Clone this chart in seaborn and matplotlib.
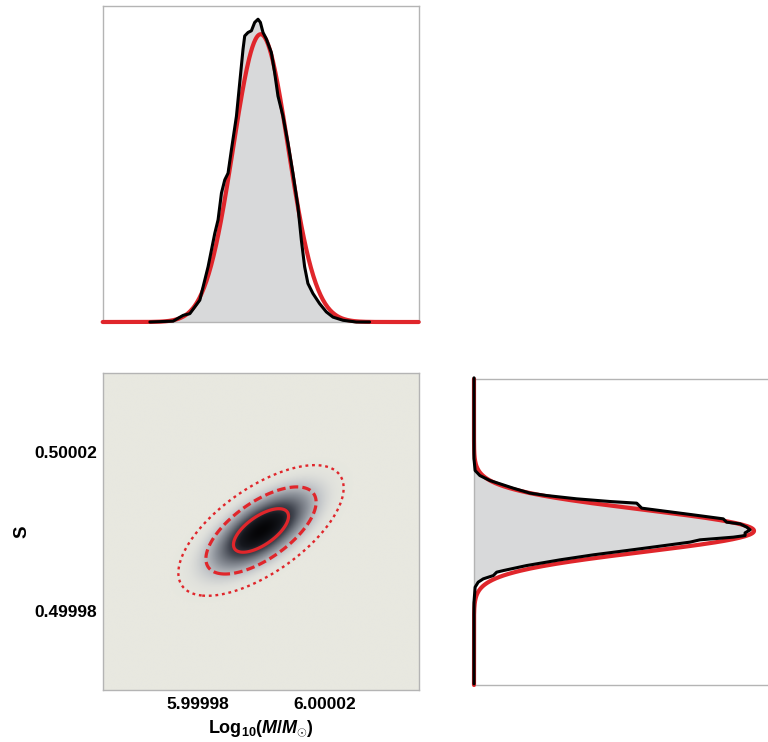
import numpy as np
import pandas as pd
import matplotlib
matplotlib.use("Agg")
import matplotlib.pyplot as plt
import seaborn as sns
from matplotlib.colors import LinearSegmentedColormap

# ---------------- data ----------------
# Gaussian (Fisher) estimate, red curves / ellipses
mean_logm = 6.0
mean_s = 0.5000003
sigma_logm = 0.87e-5
sigma_s = 0.55e-5
rho = 0.65
contour_levels = [1.0, 4.0, 9.0]          # 1, 2, 3 sigma (delta chi^2)

# MCMC marginal of log10(M/Msun): offset from 6 (units of 1e-5), height rel. to Gaussian peak
mcmc_logm_offset = [-3.507, -2.771, -2.455, -2.243, -1.927, -1.665, -1.453, -1.349, -1.242,
                    -1.137, -1.033, -0.926, -0.768, -0.664, -0.559, -0.506, -0.401, -0.294,
                    -0.190, -0.085, -0.010, 0.073, 0.180, 0.338, 0.442, 0.547, 0.705, 0.863,
                    1.020, 1.178, 1.286, 1.390, 1.494, 1.653, 1.863, 2.077, 2.287, 2.603,
                    3.024, 3.445]
mcmc_logm_height = [0.0, 0.003, 0.023, 0.029, 0.076, 0.192, 0.308, 0.355, 0.448, 0.494, 0.517,
                    0.599, 0.715, 0.831, 0.948, 0.994, 1.006, 1.012, 1.041, 1.052, 1.041, 1.006,
                    0.983, 0.936, 0.866, 0.785, 0.715, 0.622, 0.517, 0.401, 0.285, 0.192, 0.134,
                    0.099, 0.064, 0.035, 0.017, 0.006, 0.0, 0.0]

# MCMC marginal of S: offset from 0.5 (units of 1e-5), height rel. to Gaussian peak
mcmc_s_offset = [4.0, 1.882, 1.577, 1.446, 1.315, 1.229, 1.116, 0.986, 0.923, 0.837, 0.767,
                 0.724, 0.593, 0.531, 0.418, 0.314, 0.227, 0.183, 0.097, 0.026, -0.052, -0.123,
                 -0.165, -0.235, -0.295, -0.400, -0.515, -0.627, -0.758, -0.907, -1.038, -1.080,
                 -1.169, -1.255, -1.341, -1.472, -1.864, -4.0]
mcmc_s_height = [0.0, 0.0, 0.004, 0.021, 0.057, 0.093, 0.140, 0.200, 0.260, 0.367, 0.486, 0.581,
                 0.599, 0.664, 0.783, 0.890, 0.902, 0.950, 0.974, 0.986, 0.968, 0.968, 0.926,
                 0.807, 0.771, 0.664, 0.545, 0.426, 0.307, 0.188, 0.105, 0.081, 0.069, 0.033,
                 0.015, 0.004, 0.0, 0.0]

x_ticks = [5.99998, 6.00002]
x_tick_labels = ["5.99998", "6.00002"]
y_ticks = [0.49998, 0.50002]
y_tick_labels = ["0.49998", "0.50002"]
x_range = (5.99995, 6.00005)
y_range = (0.49996, 0.50004)

# ---------------- style ----------------
sns.set_style("white")
plt.rcParams["font.family"] = ["Liberation Sans", "DejaVu Sans"]
plt.rcParams["mathtext.fontset"] = "custom"
plt.rcParams["mathtext.rm"] = "Liberation Sans:bold"
plt.rcParams["mathtext.it"] = "Liberation Sans:bold:italic"
plt.rcParams["mathtext.bf"] = "Liberation Sans:bold"
plt.rcParams["text.color"] = "black"
plt.rcParams["axes.labelcolor"] = "black"

RED = "#e0262b"
BLACK = "#000000"
FILL = "#d8d9da"
SPINE = "#b4b4b4"

W, H = 768, 742
fig = plt.figure(figsize=(W / 100, H / 100), dpi=100)
ax_top = fig.add_axes([102.7 / W, 1 - 322 / H, 316 / W, 316 / H])
ax_2d = fig.add_axes([102.7 / W, 1 - 690 / H, 316.6 / W, 316.7 / H])
ax_r = fig.add_axes([474 / W, 1 - 685 / H, 296 / W, 306 / H])

for ax in (ax_top, ax_2d, ax_r):
    for sp in ax.spines.values():
        sp.set_color(SPINE)
        sp.set_linewidth(1.0)

# ---------------- top marginal ----------------
mx = mean_logm + np.array(mcmc_logm_offset) * 1e-5
my = np.array(mcmc_logm_height)
gx = np.linspace(x_range[0], x_range[1], 400)
gy = np.exp(-0.5 * ((gx - mean_logm) / sigma_logm) ** 2)
top_red = pd.DataFrame({"x": gx, "y": gy})
top_blk = pd.DataFrame({"x": mx, "y": my})
ax_top.fill_between(mx, 0, my, color=FILL, lw=0, zorder=1)
sns.lineplot(data=top_red, x="x", y="y", ax=ax_top, color=RED, lw=3.0, sort=False,
             estimator=None, zorder=3, clip_on=False)
sns.lineplot(data=top_blk, x="x", y="y", ax=ax_top, color=BLACK, lw=2.2, sort=False,
             estimator=None, zorder=4, clip_on=False)
ax_top.set_xlim(*x_range)
ax_top.set_ylim(0, 1.098)
ax_top.set_xticks([])
ax_top.set_yticks([])
ax_top.set_xlabel("")
ax_top.set_ylabel("")

# ---------------- joint panel ----------------
gx2 = np.linspace(x_range[0], x_range[1], 500)
gy2 = np.linspace(y_range[0], y_range[1], 500)
XX, YY = np.meshgrid(gx2, gy2)
zx = (XX - mean_logm) / sigma_logm
zy = (YY - mean_s) / sigma_s
chi2 = (zx ** 2 - 2 * rho * zx * zy + zy ** 2) / (1 - rho ** 2)
dens = np.exp(-0.5 * chi2)

cmap = LinearSegmentedColormap.from_list(
    "post",
    [(0.0, "#e8e8e0"), (0.03, "#e0e1dc"), (0.1, "#c4c7ca"), (0.25, "#8d929a"),
     (0.5, "#444852"), (0.75, "#16181e"), (1.0, "#050507")])
ax_2d.imshow(dens, extent=[x_range[0], x_range[1], y_range[0], y_range[1]], origin="lower",
             cmap=cmap, vmin=0, vmax=1, aspect="auto", interpolation="bilinear", zorder=1)
ax_2d.contour(XX, YY, chi2, levels=contour_levels, colors=RED,
              linestyles=["solid", (0, (2.7, 1.3)), (0, (1.2, 1.6))],
              linewidths=[2.3, 2.3, 1.7], zorder=3)
ax_2d.set_xlim(*x_range)
ax_2d.set_ylim(*y_range)
ax_2d.set_xticks(x_ticks, labels=x_tick_labels)
ax_2d.set_yticks(y_ticks, labels=y_tick_labels)
ax_2d.tick_params(direction="in", length=4, width=0.8, color=SPINE, labelcolor="black",
                  labelsize=12.5)
ax_2d.tick_params(axis="x", pad=5)
ax_2d.tick_params(axis="y", pad=4)
for lab in ax_2d.get_xticklabels() + ax_2d.get_yticklabels():
    lab.set_fontweight("bold")
ax_2d.set_xlabel(r"Log$_{10}$($\mathit{M/M}_{\odot}$)", fontsize=13, fontweight="bold",
                 labelpad=5)
ax_2d.set_ylabel("S", fontsize=13.5, fontweight="bold", labelpad=3)

# ---------------- right marginal ----------------
ry = mean_s + np.array(mcmc_s_offset) * 1e-5
rx = np.array(mcmc_s_height)
gs = np.linspace(y_range[0], y_range[1], 400)
gsd = np.exp(-0.5 * ((gs - mean_s) / sigma_s) ** 2)
r_red = pd.DataFrame({"h": gsd, "s": gs})
r_blk = pd.DataFrame({"h": rx, "s": ry})
ax_r.fill_betweenx(ry, 0, rx, color=FILL, lw=0, zorder=1)
sns.lineplot(data=r_red, x="h", y="s", ax=ax_r, color=RED, lw=3.0, sort=False,
             estimator=None, zorder=3, clip_on=False)
sns.lineplot(data=r_blk, x="h", y="s", ax=ax_r, color=BLACK, lw=2.2, sort=False,
             estimator=None, zorder=4, clip_on=False)
ax_r.set_ylim(*y_range)
ax_r.set_xlim(0, 1.057)
ax_r.set_xticks([])
ax_r.set_yticks([])
ax_r.set_xlabel("")
ax_r.set_ylabel("")

fig.savefig("out.png", dpi=100, facecolor="white")
